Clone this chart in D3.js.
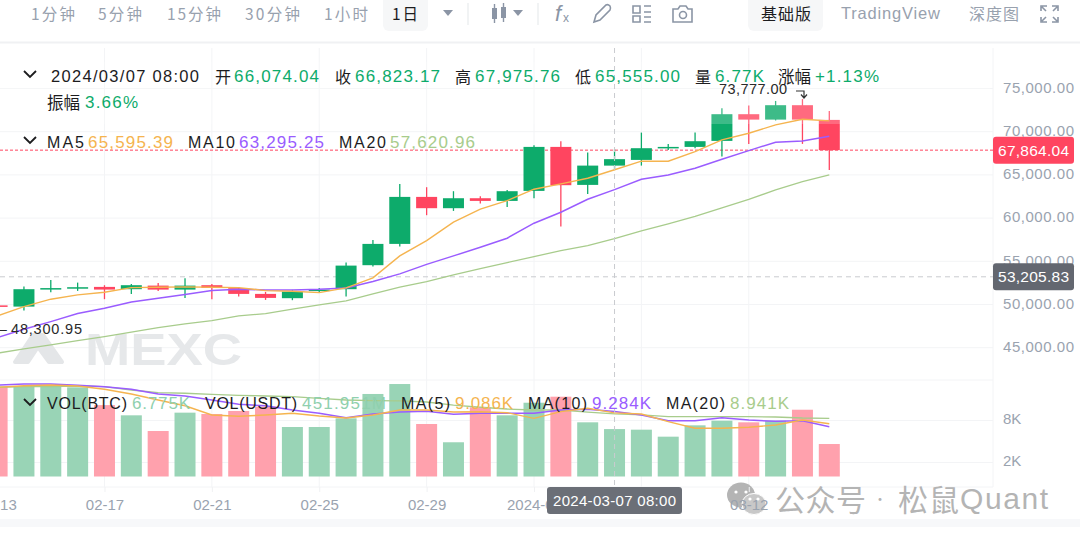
<!DOCTYPE html>
<html><head><meta charset="utf-8">
<script src="https://cdn.jsdelivr.net/npm/d3@7"></script>
<style>
html,body{margin:0;padding:0;background:#fff;overflow:hidden}
svg{display:block}
text{font-family:"Liberation Sans","Noto Sans CJK SC",sans-serif}
.cjk{font-family:"Noto Sans CJK SC","Liberation Sans",sans-serif}
</style></head><body><svg id="c" width="1080" height="541"></svg>
<script>
const dates=["02-13","02-14","02-15","02-16","02-17","02-18","02-19","02-20","02-21","02-22","02-23","02-24","02-25","02-26","02-27","02-28","02-29","03-01","03-02","03-03","03-04","03-05","03-06","03-07","03-08","03-09","03-10","03-11","03-12","03-13","03-14","03-15"];
const open_=[49896,49757,51800,51900,52037,51771,52187,51725,52234,51887,51227,50730,51609,51771,54549,57014,62454,61146,62300,61990,63148,68241,63843,66074,66736,68090,68240,68935,72025,71400,73067,71366];
const close_=[49740,51771,51900,52002,51727,52234,51725,52187,51921,51226,50764,51493,51725,54502,57014,62454,61146,62300,61990,63113,68241,63808,66076,66823,68090,68240,68900,72025,71400,73067,71400,67864];
const high_=[49950,52072,52847,52535,52234,52384,52500,53044,52384,52037,51458,51700,51921,54850,57477,63958,63576,63113,62535,63264,68437,68900,67581,67975,69896,68588,69896,72720,73020,73560,73777,72407];
const low_=[49700,49294,51424,51574,50614,51227,51574,50764,50614,50914,50532,50500,51378,50915,54400,56702,60336,60833,61680,61296,62303,59016,62801,65555,66076,67893,68090,67118,68590,71300,68590,65579];
const ma5=[48681,49757,50614,51111,51424,51956,52002,52037,52002,51956,51609,51540,51377,51921,53079,55625,57396,59526,61030,62025,63345,63958,64618,65595,66586,66586,67697,69051,69826,70787,71447,71250];
const ma10=[46169,47141,48021,48947,49572,50301,50729,51146,51609,51771,51690,51690,51771,51921,52651,53542,54641,55625,56632,57674,59410,60683,62187,63295,64502,65000,65775,66817,67813,68785,68935,69479];
const ma20=[44364,44861,45324,45822,46285,46794,47327,47755,48137,48681,48947,49456,49954,50417,51227,52002,52651,53426,54155,54850,55544,56238,56817,57621,58519,59329,60197,61181,62164,63264,64225,65000];
const vol=[12.83,12.8,13.03,12.74,10.2,8.74,6.5,9.12,8.93,9.36,9.97,7.07,7.07,8.31,11.79,13.21,7.5,4.89,9.88,8.74,10.54,11.4,7.74,6.775,6.69,5.69,7.31,7.97,7.74,7.97,9.54,4.64];
const volMa5=[12.74,12.97,13.07,12.93,12.46,11.79,10.93,10.11,8.79,8.6,8.79,9.03,8.64,8.36,8.79,9.5,9.5,9.21,9.26,9.11,8.31,9.26,9.74,9.086,8.93,7.83,6.89,6.89,7.03,7.36,8.07,7.54];
const volMa10=[13.07,13.21,13.21,13.03,12.83,12.46,11.79,11.5,10.93,10.31,10.11,9.5,9.03,8.4,8.93,9.21,9.31,8.89,9.03,9.03,9.03,9.5,9.6,9.284,8.79,7.97,7.97,8.4,8.07,7.89,7.97,7.11];
const volMa20=[12.74,12.83,12.83,12.93,12.83,12.36,11.97,11.89,11.74,11.6,11.5,11.4,11.17,10.93,10.83,10.79,10.64,10.21,9.89,9.64,9.5,9.5,9.2,8.941,8.79,8.54,8.54,8.54,8.54,8.5,8.36,8.31];
const priceTicks=[45000,50000,55000,60000,65000,70000,75000];
const volTicks=[2,8];
const dateTicks=["02-13","02-17","02-21","02-25","02-29","03-04","03-08","03-12"];
const periods=["1分钟","5分钟","15分钟","30分钟","1小时","1日"];
const lastPrice=67864.04, crossPrice=53205.83, crossDate="03-07";

const GREEN="#0dab6b",RED="#ff4560",ORANGE="#f5b44f",PURPLE="#9a5cff",LIME="#a8cc8c",AX="#9aa3af",INK="#1c1c1e";
const svg=d3.select("#c");
const x=d3.scalePoint(dates,[-2.9,829.3]);
const y=d3.scaleLinear([45000,75000],[347.7,88.5]);
const yv=d3.scaleLinear([0,8],[476.5,420.5]);
const R=993,BW=21;
const fmt=d3.format(",.2f");
function T(px,py,s,o={}){
  const e=svg.append("text").attr("x",px).attr("y",py).attr("dominant-baseline","central").text(s)
   .attr("fill",o.c||INK).attr("font-size",o.s||16);
  if(o.w){e.attr("textLength",o.w).attr("lengthAdjust",o.adj||"spacing");}
  if(o.cjk)e.attr("class","cjk");
  if(o.a)e.attr("text-anchor",o.a);
  if(o.b)e.attr("font-weight",o.b);
  return e;
}
// toolbar
svg.append("rect").attr("x",383).attr("y",-6).attr("width",45).attr("height",37).attr("rx",6).attr("fill","#f6f7f8");
svg.append("rect").attr("x",748).attr("y",-6).attr("width",75).attr("height",37).attr("rx",6).attr("fill","#f6f7f8");
[[31,44],[98,44],[167,54],[245,55],[324,44],[392,26]].forEach((p,i)=>T(p[0],13,periods[i],{c:i==5?INK:"#98a1ae",s:15.5,cjk:1,w:p[1]}));
T(761,13,"基础版",{s:16,cjk:1,w:50});
T(841,13,"TradingView",{c:"#98a1ae",s:16.5,w:99});
T(969,13,"深度图",{c:"#98a1ae",s:16,cjk:1,w:50});
const ic=svg.append("g").attr("fill","none").attr("stroke","#8b95a5").attr("stroke-width",1.6);
const tri=(cx)=>svg.append("path").attr("d",`M${cx-5} 10L${cx+5} 10L${cx} 16Z`).attr("fill","#8b95a5");
tri(448);tri(518);
ic.append("path").attr("d","M468 3V25M538 3V25").attr("stroke","#eef0f2");
svg.append("path").attr("d","M492 8h5v11h-5zM501 7h5v11h-5z").attr("fill","#8b95a5");
ic.append("path").attr("d","M494.500 4V23M503.500 3V22").attr("stroke-width",1.4);
T(555,13,"f",{c:"#8b95a5",s:22}).attr("font-style","italic");
T(563,18,"x",{c:"#8b95a5",s:12});
ic.append("path").attr("d","M594 22L596 15L606 5Q608 4 610 6Q611 8 610 10L600 20Z");
ic.append("path").attr("d","M633 6h7v7h-7zM633 16h7v6h-7zM644 6h7M644 12h7M644 17h7M644 22h7");
ic.append("path").attr("d","M673 9h5l2-3h6l2 3h4v13h-19z");
ic.append("circle").attr("cx",683).attr("cy",15).attr("r",3.5);
ic.append("path").attr("d","M1041 11V6H1047M1052 6H1058V11M1041 17V22H1047M1052 22H1058V17M1042 7L1046 11M1057 7L1053 11M1042 21L1046 17M1057 21L1053 17");
// separators
svg.append("rect").attr("x",0).attr("y",41.5).attr("width",1080).attr("height",2).attr("fill","#f0f1f3");
svg.append("rect").attr("x",0).attr("y",519).attr("width",1080).attr("height",8).attr("fill","#f7f8fa");
// grid
const grid=svg.append("g").attr("stroke","#f3f4f6").attr("fill","none");
grid.selectAll(".h").data(priceTicks).join("line").attr("x1",0).attr("x2",R).attr("y1",d=>y(d)).attr("y2",d=>y(d));
grid.selectAll(".v").data(volTicks).join("line").attr("x1",0).attr("x2",R).attr("y1",d=>yv(d)).attr("y2",d=>yv(d));
grid.append("path").attr("d",`M0 380H${R}M0 487H${R}M${R} 48V487`);
grid.selectAll(".d").data(dateTicks).join("line").attr("x1",d=>x(d)).attr("x2",d=>x(d)).attr("y1",48).attr("y2",487);
// watermark logo
svg.append("path").attr("d","M15 362L33 335H43L62 362H49L38 347L28 362Z").attr("fill","#e4e6e8").attr("stroke","#e4e6e8").attr("stroke-width",4).attr("stroke-linejoin","round");
T(85,349,"MEXC",{c:"#e6e8ea",s:45,b:700,w:157,adj:"spacingAndGlyphs"});
// WeChat icon sits beneath the date labels
const wm="#b4b4b4";
svg.append("ellipse").attr("cx",741).attr("cy",495).attr("rx",14).attr("ry",12.5).attr("fill",wm);
svg.append("ellipse").attr("cx",754).attr("cy",504).attr("rx",12).attr("ry",10.5).attr("fill","#c8c8c8").attr("stroke","#fff").attr("stroke-width",1);
svg.append("g").attr("fill","#fff").selectAll("circle").data([[736,492],[746,492],[750,499],[758,499]]).join("circle").attr("cx",d=>d[0]).attr("cy",d=>d[1]).attr("r",1.6);
// axes
const ya=svg.append("g").attr("transform",`translate(${R+10},-1)`).call(d3.axisRight(y).tickValues(priceTicks).tickSize(0).tickPadding(0).tickFormat(d3.format(",.2f")));
const va=svg.append("g").attr("transform",`translate(${R+10},-1.500)`).call(d3.axisRight(yv).tickValues(volTicks).tickSize(0).tickPadding(0).tickFormat(d=>d+"K"));
const xa=svg.append("g").attr("transform","translate(0,487)").call(d3.axisBottom(x).tickValues(dateTicks).tickSize(5).tickPadding(7).tickFormat(d=>d==="03-04"?"2024-03":d));
[ya,va,xa].forEach(g=>{g.select(".domain").remove();g.selectAll("line").attr("stroke","#f0f1f3");g.selectAll("text").attr("fill",AX).attr("font-size",15).attr("font-family",'"Liberation Sans",sans-serif');});
ya.selectAll("text").attr("textLength",71);
// reference lines
svg.append("line").attr("x1",0).attr("x2",R).attr("y1",y(lastPrice)).attr("y2",y(lastPrice)).attr("stroke",RED).attr("stroke-dasharray","3 2").attr("stroke-width",1);
svg.append("line").attr("x1",0).attr("x2",R).attr("y1",y(crossPrice)).attr("y2",y(crossPrice)).attr("stroke","#c9cbcf").attr("stroke-dasharray","5 4").attr("stroke-width",1);
// volume bars
const idx=d3.range(dates.length);
svg.append("g").selectAll("rect").data(idx).join("rect")
 .attr("x",i=>x(dates[i])-BW/2).attr("width",BW).attr("y",i=>yv(vol[i])).attr("height",i=>yv(0)-yv(vol[i]))
 .attr("fill",i=>close_[i]>=open_[i]?"#99d4b6":"#ffa1ad");
// candles
const cg=svg.append("g");
cg.selectAll("line").data(idx).join("line").attr("x1",i=>x(dates[i])).attr("x2",i=>x(dates[i])).attr("y1",i=>y(high_[i])).attr("y2",i=>y(low_[i]))
 .attr("stroke",i=>close_[i]>=open_[i]?GREEN:RED).attr("stroke-width",1.3);
cg.selectAll("rect").data(idx).join("rect")
 .attr("x",i=>x(dates[i])-BW/2).attr("width",BW)
 .attr("y",i=>y(Math.max(open_[i],close_[i]))).attr("height",i=>Math.max(1.5,Math.abs(y(open_[i])-y(close_[i]))))
 .attr("fill",i=>close_[i]>=open_[i]?GREEN:RED);
svg.append("rect").attr("x",0).attr("y",62).attr("width",990).attr("height",62).attr("fill","#fff").attr("opacity",.2);
// MA lines
const L=d3.line().x((d,i)=>x(dates[i]));
[[ma20,LIME,1.3],[ma10,PURPLE,1.5],[ma5,ORANGE,1.4]].forEach(([a,c,w])=>svg.append("path").attr("d",L.y(d=>y(d))(a)).attr("fill","none").attr("stroke",c).attr("stroke-width",w));
[[volMa20,LIME,1.3],[volMa10,PURPLE,1.5],[volMa5,ORANGE,1.4]].forEach(([a,c,w])=>svg.append("path").attr("d",L.y(d=>yv(d))(a)).attr("fill","none").attr("stroke",c).attr("stroke-width",w));
// crosshair
svg.append("line").attr("x1",x(crossDate)).attr("x2",x(crossDate)).attr("y1",48).attr("y2",487).attr("stroke","#c9cbcf").attr("stroke-dasharray","5 4");
// annotations
T(719,89,"73,777.00",{s:14.5,w:68,c:"#2a2a2a"});
svg.append("path").attr("d","M796 91H804V97M801 94.500L804 98L807 94.500").attr("fill","none").attr("stroke","#333").attr("stroke-width",1.2);
T(-1,329,"–",{s:14,c:"#2a2a2a"});
T(11,329,"48,300.95",{s:14.5,w:71,c:"#2a2a2a"});
// legend
const chev=(cx,cy)=>svg.append("path").attr("d",`M${cx-6} ${cy-3}L${cx} ${cy+3}L${cx+6} ${cy-3}`).attr("fill","none").attr("stroke",INK).attr("stroke-width",1.8);
chev(30,74);chev(30,140);chev(30,402);
T(51,76,"2024/03/07 08:00",{s:16.5,w:148});
[[215,"开",234,"66,074.04",85],[335,"收",355,"66,823.17",85],[455,"高",475,"67,975.76",85],[575,"低",595,"65,555.00",85],[695,"量",715,"6.77K",49]].forEach(r=>{
 T(r[0],76,r[1],{s:16,cjk:1});T(r[2],76,r[3],{s:17,c:GREEN,w:r[4]});});
T(778,76,"涨幅",{s:16.5,cjk:1});T(815,76,"+1.13%",{s:17,c:GREEN,w:64});
T(47,102,"振幅",{s:16.5,cjk:1});T(85,102,"3.66%",{s:17,c:GREEN,w:53});
[[47,"MA5",37,88,"65,595.39",ORANGE],[188,"MA10",47,239,"63,295.25",PURPLE],[339,"MA20",47,390,"57,620.96",LIME]].forEach(r=>{
 T(r[0],142,r[1],{s:16,w:r[2]});T(r[3],142,r[4],{s:17,c:r[5],w:85});});
[[47,"VOL(BTC)",80,132,"6.775K","#8fd0ae",58],[205,"VOL(USDT)",92,302,"451.951M","#8fd0ae",84],[401,"MA(5)",49,455,"9.086K",ORANGE,58],[528,"MA(10)",59,592,"9.284K",PURPLE,59],[666,"MA(20)",59,730,"8.941K",LIME,59]].forEach(r=>{
 T(r[0],403,r[1],{s:16,w:r[2]});T(r[3],403,r[4],{s:17,c:r[5],w:r[6]});});
// price labels
function tag(py,s,c){const h=27;svg.append("rect").attr("x",R).attr("y",py-h/2).attr("width",81).attr("height",h).attr("rx",3).attr("fill",c);
 T(R+5,py,s,{c:"#fff",s:15.5,w:71});}
tag(y(lastPrice),fmt(lastPrice),RED);
tag(y(crossPrice),fmt(crossPrice),"#636770");
// date tag
svg.append("rect").attr("x",547).attr("y",487).attr("width",135).attr("height",27).attr("rx",3).attr("fill","#6b6f77");
T(553,500,"2024-03-07 08:00",{c:"#fff",s:15,w:123});
// WeChat watermark text
T(775,498,"公众号",{c:wm,s:30,cjk:1,w:91});
T(873,498,"·",{c:wm,s:14,cjk:1});
T(898,498,"松鼠",{c:wm,s:30,cjk:1,w:61});
T(960,498,"Quant",{c:wm,s:30,w:88});
</script></body></html>
